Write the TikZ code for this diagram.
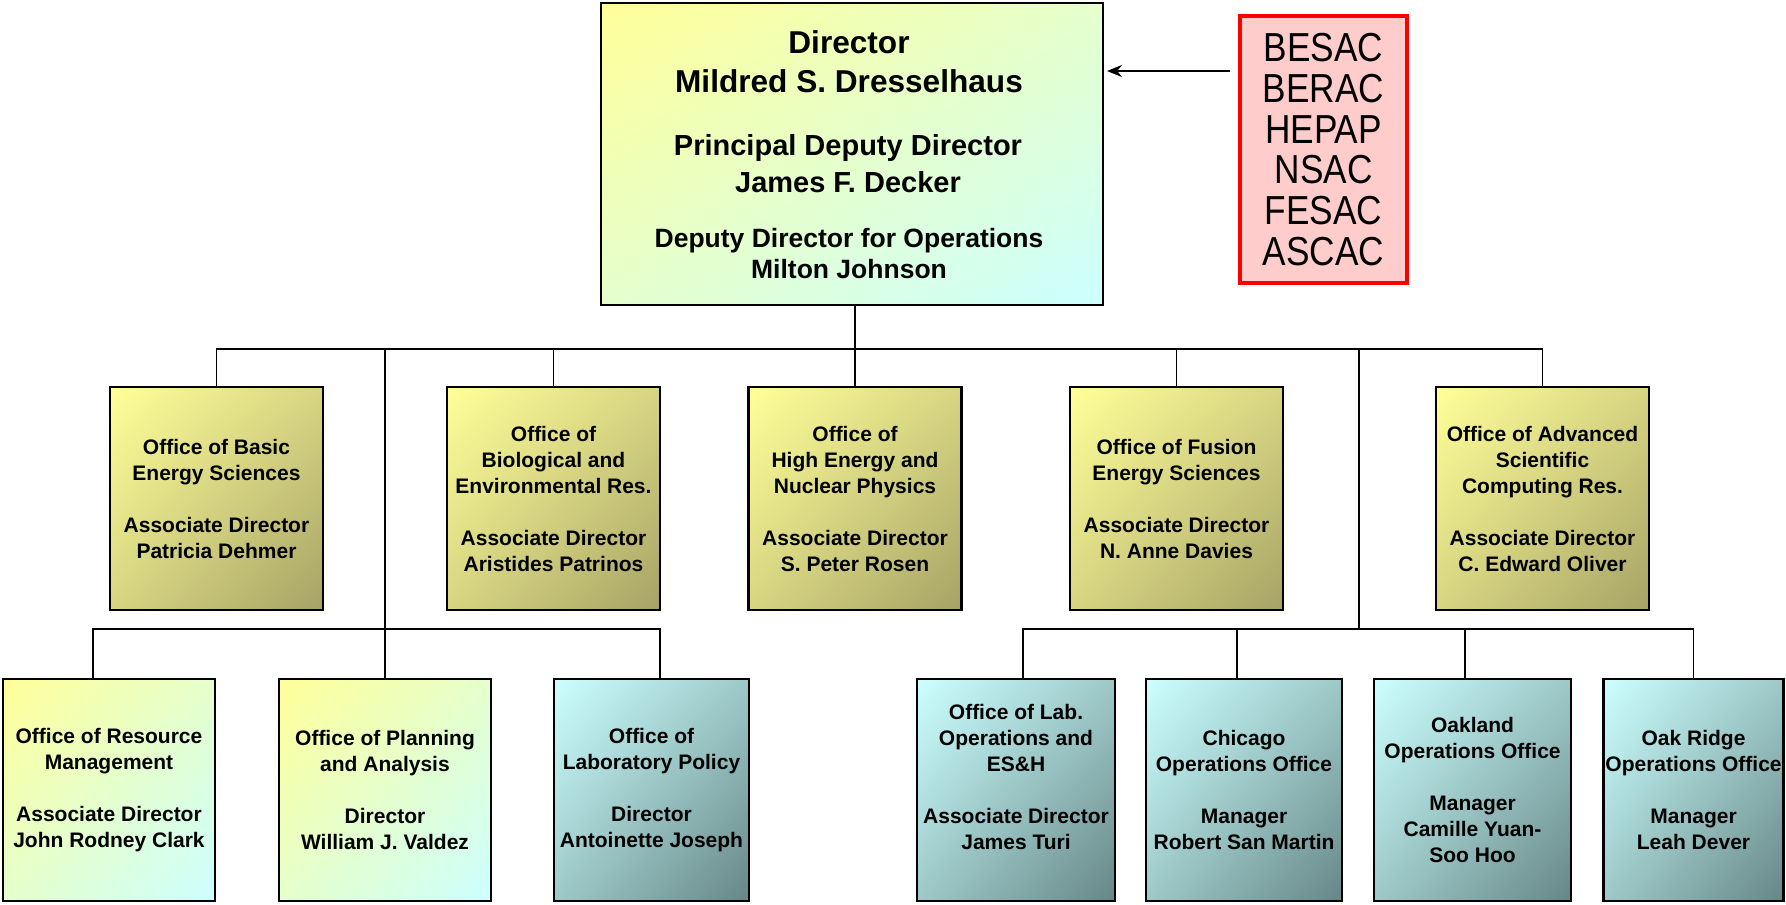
\documentclass[tikz,border=0pt]{standalone}
\usepackage{fontspec}
\setmainfont{Liberation Sans}
\newfontfamily\acfont[FakeStretch=0.87]{Liberation Sans}
\usetikzlibrary{arrows.meta,calc,shadings}
\definecolor{pyellow}{HTML}{FFFF99}
\definecolor{pcyan}{HTML}{CCFFFF}
\definecolor{oliveend}{HTML}{A6A266}
\definecolor{tealend}{HTML}{668686}
\definecolor{acfill}{HTML}{FFCCCC}
\definecolor{acred}{HTML}{FF0000}
\begin{document}
\begin{tikzpicture}[x=1pt,y=-1pt,
  box/.style={draw=black, line width=2.2pt, inner sep=0pt, align=center,
    font=\fontsize{21}{26}\selectfont\bfseries, text=black},
  yobox/.style={box, shade, upper left=pyellow, lower right=oliveend,
    upper right=pyellow!55!oliveend, lower left=pyellow!55!oliveend,
    minimum width=213pt, minimum height=223pt},
  ycbox/.style={box, shade, upper left=pyellow, lower right=pcyan,
    upper right=pyellow!50!pcyan, lower left=pyellow!50!pcyan,
    minimum height=222pt},
  ctbox/.style={box, shade, upper left=pcyan, lower right=tealend,
    upper right=pcyan!55!tealend, lower left=pcyan!55!tealend,
    minimum height=222pt},
  dirbox/.style={draw=black, line width=2pt, inner sep=0pt, shade,
    upper left=pyellow, lower right=pcyan,
    upper right=pyellow!50!pcyan, lower left=pyellow!50!pcyan,
    minimum width=502pt, minimum height=302pt},
  dtxtA/.style={anchor=base, inner sep=0pt, font=\fontsize{31.6}{39}\selectfont\bfseries},
  dtxtB/.style={anchor=base, inner sep=0pt, font=\fontsize{29}{35}\selectfont\bfseries},
  dtxtC/.style={anchor=base, inner sep=0pt, font=\fontsize{26.5}{31}\selectfont\bfseries},
  acbox/.style={draw=acred, fill=acfill, line width=3.5pt, inner sep=0pt, align=center,
    minimum width=167pt, minimum height=267pt,
    font=\acfont\fontsize{40.5}{40.8}\selectfont},
  conn/.style={draw=black, line width=1.6pt},
  arr/.style={draw=black, line width=2pt, -{Stealth[length=15pt,width=12pt]}}
]
\useasboundingbox (0,0) rectangle (1786,905);

% Director box
\node[dirbox] (dir) at (852,154) {};
\node[dtxtA] (d1) at (849,53) {Director};
\node[dtxtA] (d2) at (849,92) {Mildred S. Dresselhaus};
\node[dtxtB] (d3) at (848,155) {Principal Deputy Director};
\node[dtxtB] (d4) at (848,192) {James F. Decker};
\node[dtxtC] (d5) at (849,247) {Deputy Director for Operations};
\node[dtxtC] (d6) at (849,278) {Milton Johnson};

% Advisory committees
\node[acbox] (ac) at (1323.5,149.5) {BESAC\\BERAC\\HEPAP\\NSAC\\FESAC\\ASCAC};
\coordinate (arry) at (0,71);
\draw[arr, shorten <=8pt, shorten >=3pt] (ac.west |- arry) -- (dir.east |- arry);

% Row 2
\node[yobox] (B1) at (216.5,498.5) {Office of Basic\\Energy Sciences\\[26pt]Associate Director\\Patricia Dehmer};
\node[yobox] (B2) at (553.5,498.5) {Office of\\Biological and\\Environmental Res.\\[26pt]Associate Director\\Aristides Patrinos};
\node[yobox] (B3) at (855,498.5) {Office of\\High Energy and\\Nuclear Physics\\[26pt]Associate Director\\S. Peter Rosen};
\node[yobox] (B4) at (1176.5,498.5) {Office of Fusion\\Energy Sciences\\[26pt]Associate Director\\N. Anne Davies};
\node[yobox] (B5) at (1542.5,498.5) {Office of Advanced\\Scientific\\Computing Res.\\[26pt]Associate Director\\C. Edward Oliver};

% Row 3
\node[ycbox, minimum width=212pt] (L1) at (109,790) {Office of Resource\\Management\\[26pt]Associate Director\\John Rodney Clark};
\node[ycbox, minimum width=212pt] (L2) at (385,790) {Office of Planning\\and Analysis\\[26pt]Director\\William J. Valdez};
\node[ctbox, minimum width=195pt] (L3) at (651.5,790) {Office of\\Laboratory Policy\\[26pt]Director\\Antoinette Joseph};
\node[ctbox, minimum width=198pt] (R1) at (1016,790) {Office of Lab.\\Operations and\\ES\&H\\[26pt]Associate Director\\James Turi\\\mbox{}};
\node[ctbox, minimum width=196pt] (R2) at (1244,790) {Chicago\\Operations Office\\[26pt]Manager\\Robert San Martin};
\node[ctbox, minimum width=197pt] (R3) at (1472.5,790) {Oakland\\Operations Office\\[26pt]Manager\\Camille Yuan-\\Soo Hoo};
\node[ctbox, minimum width=180pt] (R4) at (1693.5,790) {Oak Ridge\\Operations Office\\[26pt]Manager\\Leah Dever};

% Connectors, level 1
\coordinate (bus1) at (0,349);
\coordinate (bus2) at (0,629);
\coordinate (s1) at (385,349);
\coordinate (s2) at (1359,349);
\draw[conn] (B3.north) -- (B3.north |- dir.south);
\draw[conn] (B1.north) -- (B1.north |- bus1) -- (B5.north |- bus1) -- (B5.north);
\draw[conn] (B2.north |- bus1) -- (B2.north);
\draw[conn] (B4.north |- bus1) -- (B4.north);
\draw[conn] (s1) -- (s1 |- bus2);
\draw[conn] (s2) -- (s2 |- bus2);

% Connectors, left group
\coordinate (l1t) at ($(L1.north)+(-16,0)$);
\coordinate (l3t) at ($(L3.north)+(8.5,0)$);
\draw[conn] (l1t) -- (l1t |- bus2) -- (l3t |- bus2) -- (l3t);
\draw[conn] (L2.north |- bus2) -- (L2.north);

% Connectors, right group
\coordinate (r1t) at ($(R1.north)+(7,0)$);
\coordinate (r2t) at ($(R2.north)+(-7,0)$);
\coordinate (r3t) at ($(R3.north)+(-7.5,0)$);
\draw[conn] (r1t) -- (r1t |- bus2) -- (R4.north |- bus2) -- (R4.north);
\draw[conn] (r2t |- bus2) -- (r2t);
\draw[conn] (r3t |- bus2) -- (r3t);
\end{tikzpicture}
\end{document}
